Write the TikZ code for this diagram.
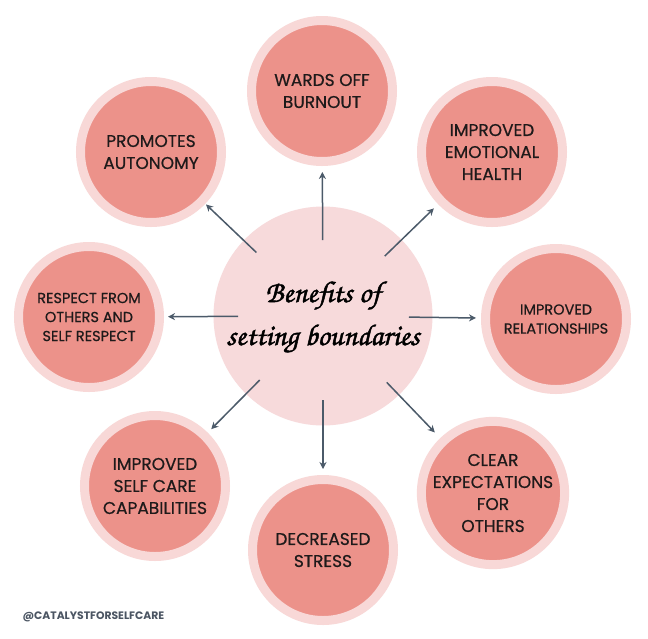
\documentclass[tikz,border=0pt]{standalone}
\usepackage{fontspec}
\setmainfont{Poppins}
\newfontfamily\lblf{Poppins}[FakeBold=0.6]
\newfontfamily\scriptf{TeX Gyre Chorus}[FakeBold=1.6]
\usetikzlibrary{calc,arrows.meta}
\definecolor{salmon}{HTML}{EC928A}
\definecolor{ringpink}{HTML}{F8D8D7}
\definecolor{centerpink}{HTML}{F7DADB}
\definecolor{arrowgray}{HTML}{4B5A69}
\definecolor{labeltext}{HTML}{1E1A1A}
\definecolor{marktext}{HTML}{4B5563}
\tikzset{
  bubble/.style={circle, fill=salmon, draw=ringpink, line width=9pt,
    minimum size=141pt, inner sep=0pt, align=center, text=labeltext,
    font=\lblf\fontsize{17}{22}\selectfont},
  smallbubble/.style={bubble, font=\lblf\fontsize{14.5}{19}\selectfont},
  hub/.style={circle, fill=centerpink, minimum size=219pt, inner sep=0pt},
  link/.style={draw=arrowgray, line width=1.5pt,
    -{Stealth[length=7pt,width=7pt]}},
}
\begin{document}
\begin{tikzpicture}[x=1pt,y=-1pt]
\useasboundingbox (0,0) rectangle (648,638);
\fill[white] (0,0) rectangle (648,638);
\node[hub] (c) at (323,316) {};
\node[align=center, text=black, font=\scriptf\fontsize{30}{43}\selectfont] (ct) at (323,317)
  {Benefits of\\setting boundaries};
\node[bubble] (o1) at (322,91) {WARDS OFF\\BURNOUT};
\node[bubble] (o2) at (492,152) {IMPROVED\\EMOTIONAL\\HEALTH};
\node[smallbubble] (o3) at (556,319) {IMPROVED\\RELATIONSHIPS};
\node[bubble] (o4) at (493,493) {CLEAR\\EXPECTATIONS\\FOR\\OTHERS};
\node[bubble] (o5) at (323,550) {DECREASED\\STRESS};
\node[bubble] (o6) at (155,486) {IMPROVED\\SELF CARE\\CAPABILITIES};
\node[smallbubble] (o7) at (89,317) {RESPECT FROM\\OTHERS AND\\SELF RESPECT};
\node[bubble] (o8) at (151,152) {PROMOTES\\AUTONOMY};
\foreach \o/\t/\h in {o1/76/81, o2/86/81, o3/86/80, o4/92/84, o5/84/81, o6/90/80, o7/85/79, o8/92/76}{
  \draw[link] ($(c)!\t pt!(\o)$) -- ($(\o)!\h pt!(c)$);
}
\node[anchor=west, text=marktext, font=\bfseries\fontsize{10.8}{12}\selectfont] (mark) at (19,617) {@CATALYSTFORSELFCARE};
\end{tikzpicture}
\end{document}
